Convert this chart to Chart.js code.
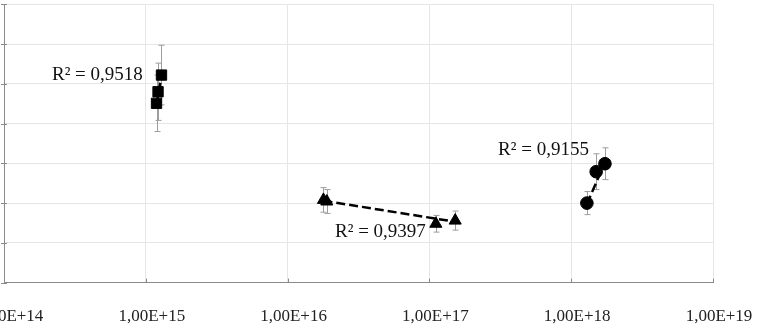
<!DOCTYPE html>
<html>
<head>
<meta charset="utf-8">
<script src="https://cdn.jsdelivr.net/npm/chart.js@4/dist/chart.umd.min.js"></script>
<style>
html, body { margin: 0; padding: 0; background: #fff; overflow: hidden; }
#wrap { position: relative; width: 801px; height: 333px; margin-left: -40px; margin-top: -4px; }
</style>
</head>
<body>
<div id="wrap"><canvas id="chart" width="801" height="333"></canvas></div>
<script>
// x axis ticks (log scale)
const xTicks = [1e14, 1e15, 1e16, 1e17, 1e18, 1e19];
const xTickLabels = ['1,00E+14', '1,00E+15', '1,00E+16', '1,00E+17', '1,00E+18', '1,00E+19'];

// squares
const sqX = [1.19e15, 1.22e15, 1.29e15];
const sqY = [4.51, 4.80, 5.22];
const sqErr = [0.71, 0.72, 0.75];
const sqTrendX = [1.19e15, 1.29e15];
const sqTrendY = [4.48, 5.20];

// triangles
const triX = [1.79e16, 1.89e16, 1.11e17, 1.52e17];
const triY = [2.08, 2.04, 1.48, 1.56];
const triErr = [0.31, 0.30, 0.21, 0.24];
const triTrendX = [1.79e16, 1.52e17];
const triTrendY = [2.06, 1.53];

// circles
const cirX = [1.29e18, 1.50e18, 1.73e18];
const cirY = [2.00, 2.79, 2.99];
const cirErr = [0.29, 0.45, 0.40];
const cirTrendX = [1.29e18, 1.73e18];
const cirTrendY = [1.98, 3.02];

const r2Text = ['R² = 0,9518', 'R² = 0,9397', 'R² = 0,9155'];

function pts(xs, ys) { return xs.map((x, i) => ({ x: x, y: ys[i] })); }

Chart.defaults.font.family = '"Liberation Serif", "Times New Roman", serif';
Chart.defaults.color = '#222';

const axisColor = '#8a8a8a';
const gridColor = '#e6e6e6';

// error bars, behind the markers
const errorBars = {
  id: 'errorBars',
  beforeDatasetsDraw(chart) {
    const { ctx, scales: { x, y } } = chart;
    const sets = [[sqX, sqY, sqErr], [triX, triY, triErr], [cirX, cirY, cirErr]];
    ctx.save();
    ctx.strokeStyle = '#9d9d9d';
    ctx.lineWidth = 1;
    sets.forEach(([xs, ys, es]) => {
      xs.forEach((v, i) => {
        const px = Math.round(x.getPixelForValue(v)) + 0.5;
        const top = y.getPixelForValue(ys[i] + es[i]);
        const bot = y.getPixelForValue(ys[i] - es[i]);
        ctx.beginPath();
        ctx.moveTo(px, top); ctx.lineTo(px, bot);
        ctx.moveTo(px - 3, top); ctx.lineTo(px + 3, top);
        ctx.moveTo(px - 3, bot); ctx.lineTo(px + 3, bot);
        ctx.stroke();
      });
    });
    ctx.restore();
  }
};

// small axis tick marks (inside on x, crossing on y) and R² labels
const extras = {
  id: 'extras',
  afterDatasetsDraw(chart) {
    const { ctx, chartArea: a, scales: { x, y } } = chart;
    ctx.save();
    ctx.strokeStyle = axisColor;
    ctx.lineWidth = 1;
    ctx.beginPath();
    xTicks.forEach(v => {
      const px = Math.round(x.getPixelForValue(v)) + 0.5;
      ctx.moveTo(px, a.bottom); ctx.lineTo(px, a.bottom - 4);
    });
    for (let v = 0; v <= 7; v++) {
      const py = Math.round(y.getPixelForValue(v)) + 0.5;
      ctx.moveTo(a.left - 3, py); ctx.lineTo(a.left + 3, py);
    }
    ctx.stroke();

    const pos = [{ x: 2.18e14, y: 5.22 }, { x: 2.16e16, y: 1.28 }, { x: 3.05e17, y: 3.34 }];
    ctx.fillStyle = '#111';
    ctx.font = '19px "Liberation Serif", "Times New Roman", serif';
    ctx.textAlign = 'left';
    ctx.textBaseline = 'middle';
    r2Text.forEach((t, i) => {
      ctx.fillText(t, x.getPixelForValue(pos[i].x), y.getPixelForValue(pos[i].y));
    });
    ctx.restore();
  }
};

const markerBase = { showLine: false, backgroundColor: '#000', borderColor: '#000', borderWidth: 1, order: 0 };
const trendBase = { showLine: true, pointRadius: 0, borderColor: '#000', borderWidth: 2.5, borderDash: [9, 4], fill: false, order: 1 };

new Chart(document.getElementById('chart').getContext('2d'), {
  type: 'scatter',
  data: {
    datasets: [
      Object.assign({ label: 'sq', data: pts(sqX, sqY), pointStyle: 'rect', pointRadius: 7.3 }, markerBase),
      Object.assign({ label: 'tri', data: pts(triX, triY), pointStyle: 'triangle', pointRadius: 7 }, markerBase),
      Object.assign({ label: 'cir', data: pts(cirX, cirY), pointStyle: 'circle', pointRadius: 6.3 }, markerBase),
      Object.assign({ label: 'sqTrend', data: pts(sqTrendX, sqTrendY) }, trendBase),
      Object.assign({ label: 'triTrend', data: pts(triTrendX, triTrendY) }, trendBase),
      Object.assign({ label: 'cirTrend', data: pts(cirTrendX, cirTrendY) }, trendBase)
    ]
  },
  options: {
    responsive: false,
    animation: false,
    devicePixelRatio: 1,
    layout: { padding: { left: 41, right: 48, top: 0, bottom: -1 } },
    plugins: { legend: { display: false }, tooltip: { enabled: false } },
    scales: {
      x: {
        type: 'logarithmic',
        min: 1e14,
        max: 1e19,
        afterBuildTicks: s => { s.ticks = xTicks.map(v => ({ value: v })); },
        ticks: {
          callback: (v, i) => xTickLabels[i],
          autoSkip: false,
          maxRotation: 0,
          labelOffset: 6,
          padding: 3,
          color: '#222',
          font: { size: 17 }
        },
        grid: { color: gridColor, tickLength: 21, tickColor: 'rgba(0,0,0,0)' },
        border: { color: axisColor, width: 1 }
      },
      y: {
        min: 0,
        max: 7,
        ticks: { display: false, stepSize: 1 },
        grid: { color: gridColor, tickLength: 3, tickColor: 'rgba(0,0,0,0)' },
        border: { color: axisColor, width: 1 }
      }
    }
  },
  plugins: [errorBars, extras]
});
</script>
</body>
</html>
